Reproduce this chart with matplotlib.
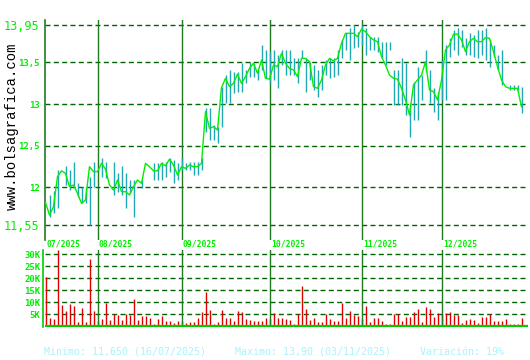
import matplotlib
matplotlib.use("Agg")
import matplotlib.pyplot as plt

# one entry per trading day, 15/07/2025 .. end of 12/2025
months = ["07/2025", "08/2025", "09/2025", "10/2025", "11/2025", "12/2025"]
month_starts = [0, 13, 34, 56, 79, 99]

close = [11.82, 11.67, 11.77, 12.13, 12.20, 12.17, 12.01, 12.03, 11.93, 11.81,
         11.85, 12.25, 12.19, 12.19, 12.29, 12.22, 12.03, 11.97, 12.09, 11.95,
         11.95, 11.91, 12.01, 12.09, 12.05, 12.29, 12.25, 12.20, 12.20, 12.29,
         12.26, 12.34, 12.27, 12.15, 12.25, 12.23, 12.27, 12.25, 12.25, 12.29,
         12.91, 12.71, 12.73, 12.69, 13.20, 13.31, 13.21, 13.25, 13.36, 13.25,
         13.33, 13.43, 13.49, 13.37, 13.53, 13.31, 13.30, 13.47, 13.45, 13.61,
         13.49, 13.43, 13.41, 13.33, 13.55, 13.55, 13.51, 13.21, 13.19, 13.29,
         13.47, 13.55, 13.52, 13.55, 13.73, 13.85, 13.85, 13.85, 13.81, 13.90,
         13.87, 13.81, 13.77, 13.75, 13.57, 13.47, 13.35, 13.31, 13.30, 13.19,
         13.05, 12.87, 13.23, 13.29, 13.35, 13.51, 13.17, 13.15, 13.05, 13.29,
         13.65, 13.71, 13.84, 13.84, 13.77, 13.63, 13.75, 13.79, 13.75, 13.75,
         13.80, 13.79, 13.63, 13.45, 13.29, 13.21, 13.19, 13.19, 13.19, 12.97]

high = [11.82, 11.91, 11.96, 12.21, 12.20, 12.26, 12.21, 12.30, 12.05, 12.01,
        12.01, 12.13, 12.31, 12.19, 12.35, 12.30, 12.03, 12.30, 12.17, 12.26,
        12.17, 12.09, 12.09, 12.09, 12.09, 12.29, 12.25, 12.29, 12.29, 12.31,
        12.30, 12.35, 12.33, 12.29, 12.35, 12.29, 12.31, 12.30, 12.31, 12.35,
        12.95, 12.95, 12.75, 12.73, 13.21, 13.35, 13.41, 13.39, 13.39, 13.49,
        13.41, 13.51, 13.49, 13.41, 13.71, 13.65, 13.63, 13.65, 13.59, 13.65,
        13.65, 13.65, 13.55, 13.55, 13.65, 13.55, 13.51, 13.47, 13.41, 13.47,
        13.53, 13.55, 13.55, 13.65, 13.77, 13.85, 13.91, 13.95, 13.87, 13.95,
        13.91, 13.81, 13.81, 13.81, 13.75, 13.75, 13.75, 13.41, 13.41, 13.55,
        13.49, 13.01, 13.27, 13.45, 13.35, 13.65, 13.41, 13.19, 13.15, 13.53,
        13.71, 13.79, 13.89, 13.91, 13.89, 13.79, 13.85, 13.83, 13.89, 13.89,
        13.91, 13.77, 13.71, 13.59, 13.65, 13.21, 13.23, 13.23, 13.23, 13.21]

low = [11.82, 11.65, 11.69, 11.75, 12.20, 12.03, 11.97, 12.01, 11.89, 11.81,
       11.81, 11.55, 12.01, 12.19, 12.13, 12.11, 12.03, 11.91, 11.95, 11.91,
       11.75, 11.93, 11.65, 12.09, 11.99, 12.29, 12.25, 12.09, 12.09, 12.09,
       12.13, 12.19, 12.05, 12.09, 12.21, 12.21, 12.21, 12.15, 12.15, 12.21,
       12.67, 12.57, 12.57, 12.53, 12.73, 13.01, 13.01, 13.13, 13.15, 13.15,
       13.25, 13.33, 13.33, 13.29, 13.41, 13.31, 13.25, 13.29, 13.19, 13.47,
       13.35, 13.35, 13.35, 13.25, 13.55, 13.15, 13.29, 13.17, 13.09, 13.17,
       13.35, 13.31, 13.33, 13.35, 13.55, 13.65, 13.53, 13.67, 13.69, 13.71,
       13.59, 13.65, 13.65, 13.63, 13.55, 13.47, 13.65, 12.99, 12.99, 12.99,
       12.87, 12.61, 12.81, 12.81, 13.05, 13.39, 13.01, 12.91, 12.81, 13.05,
       13.05, 13.57, 13.65, 13.59, 13.69, 13.59, 13.59, 13.57, 13.55, 13.59,
       13.53, 13.45, 13.57, 13.41, 13.23, 13.21, 13.17, 13.17, 13.17, 12.89]

# volume in thousands of shares
volume = [20.4, 3.5, 3.1, 31.8, 8.9, 6.5, 9.4, 8.5, 1.8, 7.6,
          1.8, 27.8, 6.4, 2.0, 3.1, 9.7, 2.6, 5.1, 4.7, 2.6,
          5.3, 4.7, 11.4, 2.6, 4.3, 4.3, 3.5, 1.0, 3.1, 4.3,
          2.2, 2.2, 1.4, 2.2, 2.0, 1.4, 1.8, 1.8, 3.5, 6.0,
          14.3, 6.8, 1.0, 1.8, 6.8, 3.5, 3.5, 2.2, 6.4, 6.0,
          3.1, 2.6, 2.2, 2.2, 2.2, 3.5, 3.0, 5.4, 3.5, 3.5,
          3.1, 2.6, 1.0, 5.1, 16.8, 7.2, 2.6, 3.5, 1.8, 1.8,
          5.1, 3.1, 2.2, 2.2, 9.7, 3.5, 6.4, 4.7, 4.3, 3.0,
          8.5, 1.8, 3.5, 3.5, 2.2, 1.0, 1.0, 5.1, 5.1, 2.2,
          3.9, 3.9, 6.0, 7.2, 1.8, 8.1, 7.2, 3.9, 5.6, 5.0,
          5.6, 6.0, 4.7, 4.7, 1.4, 2.6, 3.1, 2.6, 1.4, 3.9,
          3.9, 5.1, 2.2, 2.2, 2.2, 3.1, 1.0, 1.0, 1.0, 3.5]

price_ticks = [11.55, 12, 12.5, 13, 13.5, 13.95]
price_labels = ["11,55", "12", "12,5", "13", "13,5", "13,95"]
vol_ticks = [5, 10, 15, 20, 25, 30]
vol_labels = ["5K", "10K", "15K", "20K", "25K", "30K"]

footer = ["Minimo: 11,650 (16/07/2025)", "Maximo: 13,90 (03/11/2025)", "Variación: 19%"]

GRID = "#006400"
MONTH = "#1f7a1f"
LABEL = "#00ee00"
TEAL = "#1fa8b4"
MONO = "DejaVu Sans Mono"

x = list(range(len(close)))
W, H = 530, 360
# 4 px per trading day, days on pixel centres
XMIN, XMAX = -0.125, 120.625

fig = plt.figure(figsize=(5.3, 3.6), dpi=100, facecolor="white")

# price panel: px 20..240 vertically, 45..528 horizontally
ax = fig.add_axes([45 / W, 1 - 240 / H, 483 / W, 220 / H])
ax.set_xlim(XMIN, XMAX)
ax.set_ylim(11.37, 14.01)
ax.set_facecolor("white")
for s in ["top", "right", "bottom"]:
    ax.spines[s].set_visible(False)
ax.spines["left"].set_color(MONTH)
ax.spines["left"].set_linewidth(1.2)

for t in price_ticks:
    ax.axhline(t, color=GRID, lw=1.0, dashes=(3.6, 2.4), zorder=1)
for m in month_starts[1:]:
    ax.axvline(m, color=MONTH, lw=1.0, zorder=2)

ax.vlines(x, low, high, color=TEAL, lw=1.0, zorder=3)
ax.plot(x, close, color=LABEL, lw=1.0, zorder=4)

ax.set_xticks([])
ax.set_yticks(price_ticks)
ax.set_yticklabels(price_labels, family=MONO)
ax.tick_params(axis="y", length=0, pad=4, colors=LABEL)
for lab in ax.get_yticklabels():
    if lab.get_text() in ("13,95", "11,55"):
        lab.set_fontsize(8.5)
    else:
        lab.set_fontsize(6.5)
        lab.set_fontweight("bold")

for m, name in zip(month_starts, months):
    ax.annotate(name, xy=(m, 0), xycoords=("data", "axes fraction"),
                xytext=(1, -2.6), textcoords="offset points",
                ha="left", va="center", color=LABEL, fontsize=5.8,
                family=MONO, fontweight="bold")

# volume panel: px 250..327
vx = fig.add_axes([45 / W, 1 - 327 / H, 483 / W, 77 / H])
vx.set_xlim(XMIN, XMAX)
vx.set_ylim(-0.3, 31.75)
for s in ["top", "right", "bottom"]:
    vx.spines[s].set_visible(False)
vx.spines["left"].set_color("#00cc00")
vx.spines["left"].set_linewidth(1.2)
vx.spines["left"].set_position(("outward", 1.5))

for t in vol_ticks:
    vx.axhline(t, color=GRID, lw=1.0, dashes=(3.6, 2.4), zorder=1)
for m in month_starts[1:]:
    vx.axvline(m, color=MONTH, lw=1.0, zorder=3)
vx.vlines(x, 0, volume, color="#e00000", lw=1.0, zorder=2)
vx.axhline(0, color="#00cc00", lw=1.6, zorder=4)

vx.set_xticks([])
vx.set_yticks(vol_ticks)
vx.set_yticklabels(vol_labels, family=MONO, fontsize=6.5, fontweight="bold")
vx.tick_params(axis="y", length=0, pad=2, colors=LABEL)

fig.text(12 / W, 1 - 126 / H, "www.bolsagrafica.com", rotation=90,
         ha="center", va="center", color="black", fontsize=10,
         family="Liberation Mono")

for xpos, txt in zip([44, 235, 420], footer):
    fig.text(xpos / W, 1 - 352 / H, txt, ha="left", va="center",
             color="#a8f4fb", fontsize=7.2, family=MONO)

fig.savefig("out.png", dpi=100, facecolor="white")
